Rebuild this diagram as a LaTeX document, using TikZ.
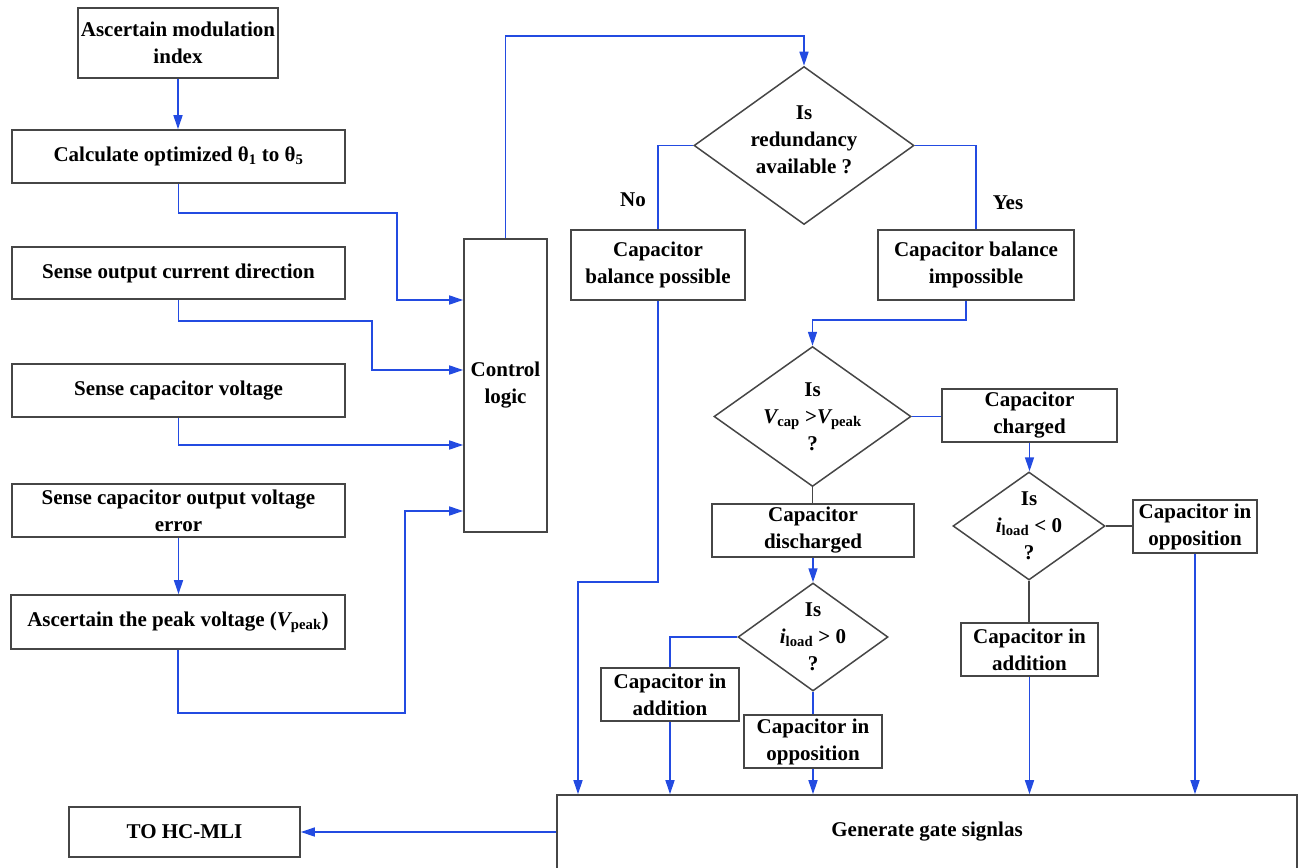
\documentclass[tikz,border=0pt]{standalone}
\usepackage{fontspec}
\setmainfont{Liberation Serif}
\usetikzlibrary{shapes.geometric,arrows.meta,calc}
\definecolor{lnblue}{RGB}{35,75,225}
\definecolor{bxgray}{RGB}{70,70,70}
\begin{document}
\begin{tikzpicture}[x=1pt,y=-1pt,
  font=\fontsize{21}{27}\selectfont\bfseries,
  box/.style={draw=bxgray,line width=1.6pt,rectangle,inner sep=0pt,align=center},
  dia/.style={draw=bxgray,line width=1.5pt,diamond,inner sep=0pt},
  txt/.style={align=center,inner sep=0pt},
  con/.style={draw=lnblue,line width=1.5pt},
  arr/.style={con,-{Triangle[length=14pt,width=9pt]}},
  blk/.style={draw=bxgray,line width=1.5pt}]
\useasboundingbox (0,0) rectangle (1300,867);

% left column
\node[box,minimum width=200pt,minimum height=70pt] (A) at (178,43) {Ascertain modulation\\index};
\node[box,minimum width=333pt,minimum height=53pt] (B) at (178.5,156.5) {Calculate optimized θ\textsubscript{1} to θ\textsubscript{5}};
\node[box,minimum width=333pt,minimum height=52pt] (C) at (178.5,273) {Sense output current direction};
\node[box,minimum width=333pt,minimum height=53pt] (D) at (178.5,390.5) {Sense capacitor voltage};
\node[box,minimum width=333pt,minimum height=53pt] (E) at (178.5,510.5) {Sense capacitor output voltage\\error};
\node[box,minimum width=334pt,minimum height=54pt] (F) at (178,622) {Ascertain the peak voltage ({\itshape V}\textsubscript{peak})};
\node[box,minimum width=83pt,minimum height=293pt] (CL) at (505.5,385.5) {Control\\logic};

% right part
\node[dia,minimum width=220pt,minimum height=158pt] (D1) at (804,145.5) {};
\node[txt] (D1t) at ($(D1)+(0,-6)$) {Is\\redundancy\\available ?};
\node[box,minimum width=174pt,minimum height=70pt] (G) at (658,265) {Capacitor\\balance possible};
\node[box,minimum width=196pt,minimum height=70pt] (H) at (976,265) {Capacitor balance\\impossible};
\node (No) at (633,200) {No};
\node (Yes) at (1008,203) {Yes};

\node[dia,minimum width=197pt,minimum height=140pt] (D2) at (812.5,416.5) {};
\node[txt] (D2t) at (D2) {Is\\{\itshape V}\textsubscript{cap} >{\itshape V}\textsubscript{peak}\\?};
\node[box,minimum width=175pt,minimum height=53pt] (I) at (1029.5,415.5) {Capacitor\\charged};
\node[box,minimum width=202pt,minimum height=53pt] (J) at (813,530.5) {Capacitor\\discharged};

\node[dia,minimum width=150pt,minimum height=108pt] (D3) at (813,637) {};
\node[txt] (D3t) at (D3) {Is\\{\itshape i}\textsubscript{load} > 0\\?};
\node[box,minimum width=138pt,minimum height=53pt] (K) at (670,694.5) {Capacitor in\\addition};
\node[box,minimum width=138pt,minimum height=53pt] (L) at (813,741.5) {Capacitor in\\opposition};

\node[dia,minimum width=152pt,minimum height=108pt] (D4) at (1029,526) {};
\node[txt] (D4t) at (D4) {Is\\{\itshape i}\textsubscript{load} < 0\\?};
\node[box,minimum width=124pt,minimum height=53pt] (M) at (1195,526.5) {Capacitor in\\opposition};
\node[box,minimum width=137pt,minimum height=53pt] (N) at (1029.5,649.5) {Capacitor in\\addition};

\node[box,minimum width=740pt,minimum height=74pt] (GEN) at (927,832) {Generate gate signlas};
\node[box,minimum width=231pt,minimum height=50pt] (TO) at (184.5,832) {TO HC-MLI};

% connectors left
\draw[arr] (A.south) -- (A.south |- B.north);
\draw[arr] (B.south) -- ++(0,29) -| (397,300) -- (CL.west |- 0,300);
\draw[arr] (C.south) -- ++(0,21) -| (372,370) -- (CL.west |- 0,370);
\draw[arr] (D.south) |- (CL.west |- 0,445);
\draw[arr] (E.south) -- (E.south |- F.north);
\draw[arr] (F.south) -- ++(0,63) -| (405,511) -- (CL.west |- 0,511);
\draw[arr] (CL.north) |- (D1.north |- 0,36) -- (D1.north);

% connectors right
\draw[con] (D1.west) -| (G.north);
\draw[con] (D1.east) -| (H.north);
\draw[arr] ([xshift=-10pt]H.south) -- ++(0,19) -| (D2.north);
\draw[con] (D2.east) -- (D2.east -| I.west);
\draw[blk] (D2.south) -- (D2.south |- J.north);
\draw[arr] (J.south) -- (J.south |- D3.north);
\draw[con] (D3.west) -| (K.north);
\draw[con] (D3.south) -- (D3.south |- L.north);
\draw[arr] (I.south) -- (I.south |- D4.north);
\draw[blk] (D4.east) -- (D4.east -| M.west);
\draw[blk] (D4.south) -- (D4.south |- N.north);

% into generate
\draw[arr] (G.south) -- ++(0,281) -| (GEN.north -| 578,0);
\draw[arr] (K.south) -- (K.south |- GEN.north);
\draw[arr] (L.south) -- (L.south |- GEN.north);
\draw[arr] (N.south) -- (N.south |- GEN.north);
\draw[arr] (M.south) -- (M.south |- GEN.north);
\draw[arr] (GEN.west) -- (TO.east);
\end{tikzpicture}
\end{document}
